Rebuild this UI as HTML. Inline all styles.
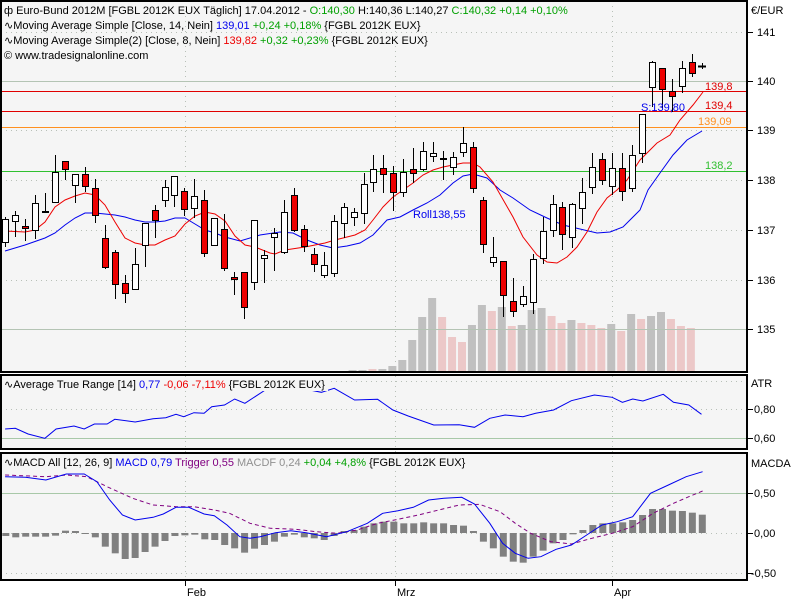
<!DOCTYPE html>
<html><head><meta charset="utf-8"><style>
html,body{margin:0;padding:0;background:#fff;}
svg{display:block;font-family:"Liberation Sans",sans-serif;font-size:11px;}
</style></head><body>
<svg id="s" width="800" height="600" xmlns="http://www.w3.org/2000/svg">
<rect x="0" y="0" width="800" height="600" fill="#fff"/>
<rect x="1" y="1" width="745" height="370" fill="#f5f5f5"/>
<rect x="1" y="375" width="745" height="74" fill="#f5f5f5"/>
<rect x="1" y="453" width="745" height="127" fill="#f5f5f5"/>
<g id="grid" stroke="#b8c0b8" stroke-dasharray="1,4" stroke-width="1">
<line x1="185.5" y1="1" x2="185.5" y2="580"/>
<line x1="395.5" y1="1" x2="395.5" y2="580"/>
<line x1="612.5" y1="1" x2="612.5" y2="580"/>
<line x1="1" y1="32.5" x2="746" y2="32.5"/>
<line x1="1" y1="130.5" x2="746" y2="130.5"/>
<line x1="1" y1="180.5" x2="746" y2="180.5"/>
<line x1="1" y1="230.5" x2="746" y2="230.5"/>
<line x1="1" y1="280.5" x2="746" y2="280.5"/>
<line x1="1" y1="381.5" x2="746" y2="381.5"/>
<line x1="1" y1="409.5" x2="746" y2="409.5"/>
<line x1="1" y1="533.5" x2="746" y2="533.5"/>
<line x1="1" y1="573.5" x2="746" y2="573.5"/>
</g>
<g id="vol"></g>
<line x1="1" y1="81.5" x2="746" y2="81.5" stroke="#b4c4b4"/>
<line x1="1" y1="329.5" x2="746" y2="329.5" stroke="#b4c4b4"/>
<line x1="1" y1="438.5" x2="746" y2="438.5" stroke="#a8c8a8"/>
<line x1="1" y1="493.5" x2="746" y2="493.5" stroke="#a8c8a8"/>
<g id="hist"></g>
<line x1="1" y1="91.5" x2="746" y2="91.5" stroke="#e00000"/>
<line x1="1" y1="111.5" x2="746" y2="111.5" stroke="#e00000"/>
<line x1="1" y1="127.5" x2="746" y2="127.5" stroke="#ff9020"/>
<line x1="1" y1="171.5" x2="746" y2="171.5" stroke="#30c030"/>
<polyline id="blue" fill="none" stroke="#0000ee" stroke-width="1"/>
<polyline id="red" fill="none" stroke="#ee0000" stroke-width="1"/>
<g id="candles"></g>
<polyline id="atr" fill="none" stroke="#0000ee" stroke-width="1"/>
<polyline id="trig" fill="none" stroke="#800080" stroke-width="1" stroke-dasharray="4,3"/>
<polyline id="macd" fill="none" stroke="#0000ee" stroke-width="1"/>
<text x="705" y="90" fill="#e00000">139,8</text>
<text x="705" y="109" fill="#e00000">139,4</text>
<text x="698" y="125" fill="#ff9020">139,09</text>
<text x="705" y="169" fill="#30c030">138,2</text>
<text x="641" y="111" fill="#0000ee">S:139,80</text>
<text x="413" y="218" fill="#0000ee">Roll138,55</text>
<g fill="#000">
<text x="4" y="14"><tspan>ф Euro-Bund 2012M [FGBL 2012K EUX  Täglich] 17.04.2012 - </tspan><tspan fill="#00a000">O:140,30</tspan><tspan> H:140,36 L:140,27 </tspan><tspan fill="#00a000">C:140,32 +0,14 +0,10%</tspan></text>
<text x="4" y="29">∿Moving Average Simple [Close, 14, Nein] <tspan fill="#0000ee">139,01</tspan><tspan fill="#00a000"> +0,24 +0,18%</tspan> {FGBL 2012K EUX}</text>
<text x="4" y="44">∿Moving Average Simple(2) [Close, 8, Nein] <tspan fill="#ee0000">139,82</tspan><tspan fill="#00a000"> +0,32 +0,23%</tspan> {FGBL 2012K EUX}</text>
<text x="4" y="59">© www.tradesignalonline.com</text>
</g>
<rect x="2" y="377" width="326" height="14" fill="#f5f5f5"/>
<text x="4" y="388">∿Average True Range [14] <tspan fill="#0000ee">0,77</tspan><tspan fill="#ee0000"> -0,06 -7,11%</tspan> {FGBL 2012K EUX}</text>
<rect x="2" y="455" width="460" height="14" fill="#f5f5f5"/>
<text x="4" y="466">∿MACD All [12, 26, 9] <tspan fill="#0000ee">MACD 0,79</tspan><tspan fill="#800080"> Trigger 0,55</tspan><tspan fill="#909090"> MACDF 0,24</tspan><tspan fill="#00a000"> +0,04 +4,8%</tspan> {FGBL 2012K EUX}</text>
<g fill="none" stroke="#000" stroke-width="2">
<rect x="1" y="1" width="746" height="371"/>
<rect x="1" y="375" width="746" height="74"/>
<rect x="1" y="453" width="746" height="127"/>
</g>
<g stroke="#000">
<line x1="748" y1="32.5" x2="753" y2="32.5"/><line x1="748" y1="81.5" x2="753" y2="81.5"/>
<line x1="748" y1="130.5" x2="753" y2="130.5"/><line x1="748" y1="180.5" x2="753" y2="180.5"/>
<line x1="748" y1="230.5" x2="753" y2="230.5"/><line x1="748" y1="280.5" x2="753" y2="280.5"/>
<line x1="748" y1="329.5" x2="753" y2="329.5"/><line x1="748" y1="409.5" x2="753" y2="409.5"/>
<line x1="748" y1="438.5" x2="753" y2="438.5"/><line x1="748" y1="493.5" x2="753" y2="493.5"/>
<line x1="748" y1="533.5" x2="753" y2="533.5"/><line x1="748" y1="573.5" x2="753" y2="573.5"/>
<line x1="185.5" y1="580" x2="185.5" y2="586"/><line x1="395.5" y1="580" x2="395.5" y2="586"/>
<line x1="612.5" y1="580" x2="612.5" y2="586"/>
</g>
<g fill="#000">
<text x="751" y="14">€/EUR</text>
<text x="757" y="36">141</text><text x="757" y="85">140</text><text x="757" y="134">139</text>
<text x="757" y="184">138</text><text x="757" y="234">137</text><text x="757" y="284">136</text>
<text x="757" y="333">135</text>
<text x="751" y="387">ATR</text>
<text x="754" y="413">0,80</text><text x="754" y="442">0,60</text>
<text x="751" y="467">MACDA</text>
<text x="754" y="497">0,50</text><text x="754" y="537">0,00</text><text x="751" y="577">-0,50</text>
<text x="187" y="596">Feb</text><text x="397" y="596">Mrz</text><text x="614" y="596">Apr</text>
</g>
</svg>
<script>
var NS="http://www.w3.org/2000/svg";
function X(i){return 5.3+9.95*i;}
function el(p,t,a){var e=document.createElementNS(NS,t);for(var k in a)e.setAttribute(k,a[k]);document.getElementById(p).appendChild(e);return e;}
// [bodyTop, bodyBot, wickTop, wickBot, red]
var C=[[219,242,217,247,0],[215,221,211,237,0],[226,228,219,241,1],[203,230,195,239,0],[211,212,193,212,0],
[172,202,155,203,0],[161,169,161,180,1],[174,185,174,203,0],[174,186,167,192,1],[188,215,179,223,1],
[238,267,225,269,1],[252,284,250,299,1],[283,293,275,303,1],[264,289,248,289,0],[223,245,223,267,0],
[210,220,205,238,1],[187,200,180,207,0],[176,195,176,207,0],[191,209,188,216,1],[196,208,179,218,0],
[200,253,190,257,1],[218,245,218,245,0],[229,268,214,271,1],[277,279,272,295,1],[272,307,272,319,1],
[220,282,220,290,0],[255,258,250,283,0],[233,237,228,271,0],[212,252,200,254,0],[195,230,188,232,1],
[229,246,225,252,1],[254,264,248,272,1],[265,275,252,278,0],[221,273,215,277,0],[207,223,203,238,0],
[212,217,208,226,0],[184,213,173,224,0],[169,182,155,192,0],[168,174,155,193,1],[173,192,166,211,1],
[172,192,159,197,0],[169,173,148,183,1],[151,169,142,171,0],[153,156,142,162,0],[158,158,151,180,0],
[157,167,152,175,0],[143,152,127,157,0],[147,188,142,193,1],[200,244,197,253,1],[257,262,237,267,0],
[261,295,261,317,1],[301,311,278,317,1],[296,304,286,307,0],[259,302,254,314,0],[231,258,217,264,0],
[204,230,195,237,0],[207,234,202,250,1],[204,237,203,248,0],[192,208,178,224,0],[167,187,153,194,0],
[159,180,153,185,1],[168,186,153,195,0],[168,191,153,201,1],[155,188,145,192,0],[114,153,114,163,0],
[62,87,61,107,0],[68,89,68,108,1],[91,96,79,112,1],[68,86,61,93,0],[62,73,54,77,1],[66,66,64,68,0]];
C.forEach(function(c,i){var x=Math.round(X(i));
 if(i==70){el("candles","line",{x1:x-4,x2:x+4,y1:66.5,y2:66.5,stroke:"#000","stroke-width":2});el("candles","line",{x1:x+0.5,x2:x+0.5,y1:63,y2:69,stroke:"#000"});return;}
 el("candles","line",{x1:x+0.5,x2:x+0.5,y1:c[2],y2:c[3],stroke:"#000"});
 var h=Math.max(c[1]-c[0],1);
 el("candles","rect",{x:x-2.5,y:c[0]+0.5,width:6,height:h,fill:c[4]?"#ee0000":"#fff",stroke:"#000"});
});
// volume: [index, top, pink]
var V=[[35,370,0],[36,370,0],[37,369,1],[38,369,0],[39,366,0],[40,360,0],[41,340,0],[42,317,0],[43,298,0],[44,317,1],[45,337,1],[46,342,1],
[47,325,0],[48,305,0],[49,311,1],[50,307,0],[51,326,1],[52,325,0],[53,310,0],[54,308,0],[55,316,1],[56,323,1],
[57,320,0],[58,323,1],[59,325,1],[60,328,1],[61,324,0],[62,331,1],[63,314,0],[64,319,1],[65,316,0],[66,312,0],
[67,319,1],[68,326,1],[69,328,1]];
V.forEach(function(v){var x=X(v[0])-1;el("vol","rect",{x:x-4,y:v[1],width:8,height:371-v[1],fill:v[2]?"#ecc8c8":"#c0c0c0"});});
function pl(id,pts){document.getElementById(id).setAttribute("points",pts.map(function(p){return p[0]+","+p[1];}).join(" "));}
pl("red",[[5,231],[25,232],[35,230],[45,222],[55,207],[65,200],[75,196],[85,193],[95,195],[105,205],[115,222],[125,238],[135,243],[145,245],[155,245],[165,240],[175,236],[185,224],[195,216],[205,212],[215,214],[225,221],[235,236],[245,245],[255,247],[270,253],[275,254],[285,250],[305,247],[325,243],[335,240],[355,235],[365,230],[373,220],[383,207],[393,197],[403,190],[413,183],[423,175],[433,170],[443,167],[453,165],[463,163],[473,163],[480,167],[493,182],[513,217],[523,237],[537,255],[547,262],[557,263],[567,257],[577,247],[587,232],[597,212],[607,198],[617,190],[627,180],[640,160],[657,143],[670,135],[680,120],[693,105],[703,92]]);
pl("blue",[[5,251],[25,245],[45,238],[55,233],[65,225],[75,218],[85,213],[95,213],[105,214],[115,215],[125,217],[135,220],[145,222],[155,222],[165,221],[175,218],[185,218],[195,224],[205,230],[215,233],[225,237],[240,241],[260,235],[280,232],[293,233],[307,240],[320,245],[333,248],[347,246],[360,243],[373,235],[387,220],[400,217],[413,210],[427,203],[440,195],[453,183],[463,176],[473,174],[487,178],[500,190],[513,198],[530,210],[547,218],[563,225],[580,229],[597,233],[610,232],[623,227],[640,210],[648,190],[660,173],[673,155],[687,140],[702,131]]);
var sx=1.96;
function cv(a){return a.map(function(p){return [(p[0]/sx).toFixed(1),(360+p[1]/3).toFixed(1)];});}
pl("atr",cv([[10,207],[30,205],[55,222],[88,235],[110,207],[145,198],[165,207],[185,192],[210,192],[225,178],[265,186],[300,176],[325,173],[345,163],[360,170],[380,158],[400,160],[415,140],[440,135],[460,117],[480,130],[520,90],[590,85],[630,97],[655,85],[695,120],[740,118],[770,150],[800,168],[850,195],[900,194],[930,202],[960,175],[990,165],[1025,170],[1050,160],[1085,150],[1120,122],[1165,105],[1200,112],[1220,127],[1240,117],[1260,123],[1300,103],[1320,127],[1350,135],[1375,163]]));
pl("macd",cv([[10,350],[50,352],[90,360],[130,342],[165,342],[190,365],[215,420],[240,465],[265,480],[300,472],[320,462],[345,442],[370,442],[400,462],[420,467],[445,495],[470,530],[490,535],[510,530],[540,518],[570,512],[600,518],[640,530],[680,515],[720,490],[750,460],[780,452],[810,442],[840,420],[870,415],[905,412],[930,432],[960,490],[985,550],[1010,580],[1035,595],[1060,590],[1090,568],[1120,555],[1150,525],[1180,495],[1210,485],[1240,470],[1275,400],[1310,375],[1345,350],[1377,335]]));
pl("trig",cv([[10,345],[90,350],[130,345],[170,350],[210,380],[260,415],[300,435],[345,440],[380,440],[420,450],[450,460],[490,490],[530,505],[580,508],[620,515],[660,520],[700,510],[740,490],[780,478],[820,465],[860,450],[900,435],[940,433],[980,455],[1010,490],[1040,520],[1080,545],[1120,552],[1160,535],[1200,520],[1240,500],[1280,460],[1320,430],[1350,410],[1377,393]]));
var H=[528,532,530,530,530,527,512,513,520,532,560,580,597,594,576,560,543,528,526,524,538,540,555,565,578,566,555,545,530,524,532,535,540,528,513,510,500,490,485,485,490,490,487,490,490,495,497,513,545,565,590,605,608,590,572,550,540,523,510,495,490,490,487,480,465,447,447,452,453,458,464];
H.forEach(function(z,i){var y=360+z/3,x=X(i);var t=Math.min(y,533),b=Math.max(y,533);if(b-t<1)b=t+1;el("hist","rect",{x:x-3,y:t,width:7,height:b-t,fill:"#808080"});});
</script>
</body></html>
